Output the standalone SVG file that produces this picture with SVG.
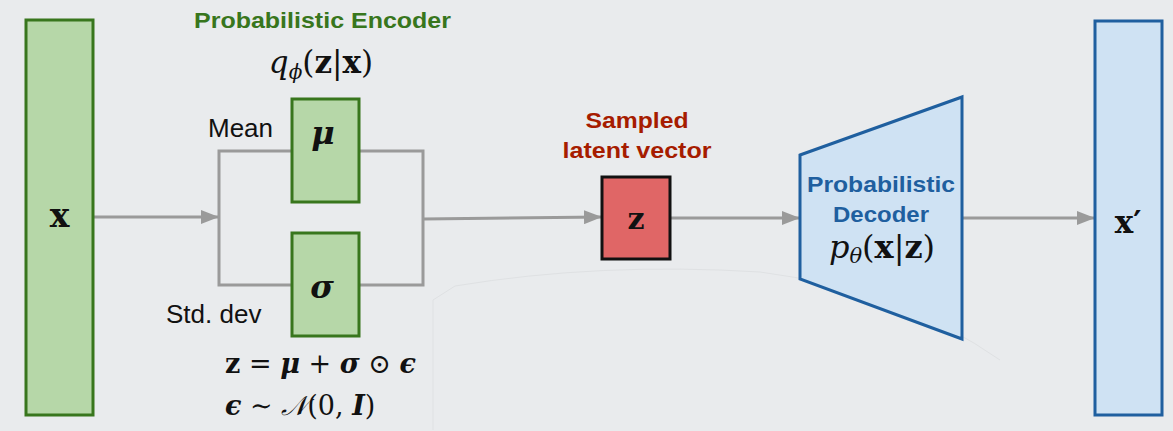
<svg xmlns="http://www.w3.org/2000/svg" width="1173" height="431" viewBox="0 0 1173 431">
  <defs>
    <marker id="arrow" viewBox="0 0 18 14" refX="18" refY="7" markerWidth="18" markerHeight="14" markerUnits="userSpaceOnUse" orient="auto">
      <path d="M0,0 L18,7 L0,14 Z" fill="#9a9a9a"/>
    </marker>
    <style>
      .green { fill: #b6d7a8; stroke: #38761d; stroke-width: 3; }
      .red { fill: #e06666; stroke: #111; stroke-width: 3; }
      .blue { fill: #cfe2f3; stroke: #1f5f9f; stroke-width: 3; }
      .wire { fill: none; stroke: #9a9a9a; stroke-width: 3; }
      .lbl { font-family: "Liberation Sans", Arial, sans-serif; font-size: 26px; fill: #111; }
      .head { font-family: "Liberation Sans", Arial, sans-serif; font-size: 22px; font-weight: bold; }
      .math { font-family: "DejaVu Serif", "Liberation Serif", serif; fill: #111; }
      .bm { font-weight: bold; }
      .it { font-style: italic; }
    </style>
  </defs>

  <rect width="1173" height="431" fill="#e9ebed"/>
  <!-- faint background guide lines -->
  <path d="M433,430 L433,300 L455,286 Q600,262 760,272 Q900,290 1000,360" fill="none" stroke="#dfe1e3" stroke-width="1"/>

  <!-- connectors -->
  <g id="connectors">
    <line class="wire" x1="93" y1="217" x2="219" y2="217" marker-end="url(#arrow)"/>
    <path class="wire" d="M292,151 H219 V285 H292"/>
    <path class="wire" d="M359,151 H423 V285 H359"/>
    <line class="wire" x1="423" y1="219" x2="602" y2="217" marker-end="url(#arrow)"/>
    <line class="wire" x1="670" y1="218" x2="800" y2="218" marker-end="url(#arrow)"/>
    <line class="wire" x1="962" y1="218" x2="1095" y2="218" marker-end="url(#arrow)"/>
  </g>

  <!-- input -->
  <g id="input-x">
    <rect class="green" x="26" y="20" width="67" height="395"/>
    <text class="math bm" x="59.5" y="227" font-size="33" text-anchor="middle">x</text>
  </g>

  <!-- encoder -->
  <g id="encoder">
    <text class="head" x="194" y="28" fill="#38761d" textLength="257" lengthAdjust="spacingAndGlyphs">Probabilistic Encoder</text>
    <text class="math" x="321" y="73" font-size="31" text-anchor="middle"><tspan class="it">q</tspan><tspan class="it" font-size="20" dy="6">ϕ</tspan><tspan dy="-6">(</tspan><tspan class="bm">z</tspan><tspan>|</tspan><tspan class="bm">x</tspan><tspan>)</tspan></text>
  </g>

  <g id="mean">
    <rect class="green" x="292" y="99" width="67" height="103"/>
    <text class="math bm it" x="323" y="144" font-size="32" text-anchor="middle">μ</text>
    <text class="lbl" x="208" y="137">Mean</text>
  </g>

  <g id="stddev">
    <rect class="green" x="292" y="233" width="67" height="103"/>
    <text class="math bm it" x="322" y="298" font-size="32" text-anchor="middle">σ</text>
    <text class="lbl" x="166" y="323">Std. dev</text>
  </g>

  <g id="reparam">
    <text class="math" x="225" y="373" font-size="27"><tspan class="bm">z</tspan><tspan> = </tspan><tspan class="bm it">μ</tspan><tspan> + </tspan><tspan class="bm it">σ</tspan><tspan> ⊙ </tspan><tspan class="bm it">ϵ</tspan></text>
    <text class="math" x="225" y="415" font-size="27"><tspan class="bm it">ϵ</tspan><tspan> ∼ </tspan><tspan class="it">𝒩</tspan><tspan>(0, </tspan><tspan class="bm it">I</tspan><tspan>)</tspan></text>
  </g>

  <!-- latent -->
  <g id="latent-z">
    <text class="head" x="637" y="128" fill="#a61c00" text-anchor="middle" textLength="103" lengthAdjust="spacingAndGlyphs">Sampled</text>
    <text class="head" x="637" y="158" fill="#a61c00" text-anchor="middle" textLength="149" lengthAdjust="spacingAndGlyphs">latent vector</text>
    <rect class="red" x="602" y="177" width="68" height="82"/>
    <text class="math bm" x="636" y="229" font-size="30" text-anchor="middle">z</text>
  </g>

  <!-- decoder -->
  <g id="decoder">
    <path class="blue" d="M800,155 L962,97 L962,339 L800,279 Z"/>
    <text class="head" x="881" y="192" fill="#1f5f9f" text-anchor="middle" textLength="148" lengthAdjust="spacingAndGlyphs">Probabilistic</text>
    <text class="head" x="881" y="222" fill="#1f5f9f" text-anchor="middle" textLength="96" lengthAdjust="spacingAndGlyphs">Decoder</text>
    <text class="math" x="882" y="258" font-size="32" text-anchor="middle"><tspan class="it">p</tspan><tspan class="it" font-size="21" dy="5">θ</tspan><tspan dy="-5">(</tspan><tspan class="bm">x</tspan><tspan>|</tspan><tspan class="bm">z</tspan><tspan>)</tspan></text>
  </g>

  <!-- output -->
  <g id="output-x">
    <rect class="blue" x="1095" y="21" width="67" height="394"/>
    <text class="math bm" x="1128" y="233" font-size="31" text-anchor="middle">x′</text>
  </g>
</svg>
